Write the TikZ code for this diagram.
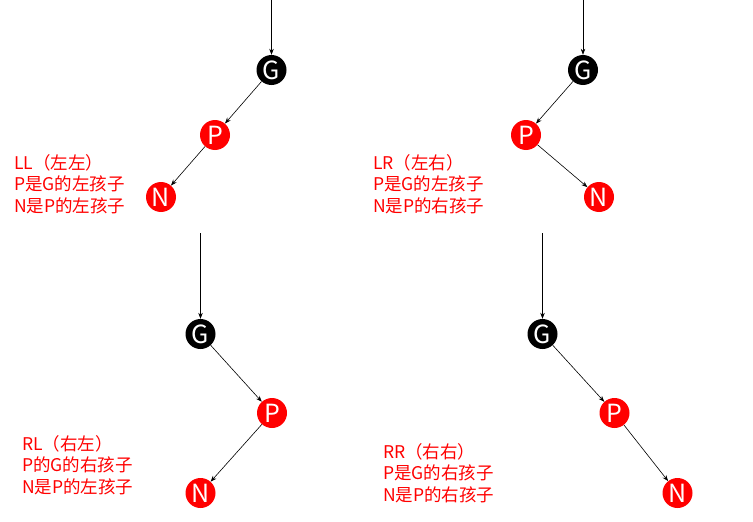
\documentclass[tikz,border=0pt]{standalone}
\usepackage{fontspec}
\setmainfont{Noto Sans CJK SC}
\usetikzlibrary{arrows.meta}
\tikzset{
  rbnode/.style={circle, minimum size=30pt, inner sep=0pt, text=white,
    font=\fontsize{25}{25}\selectfont},
  blk/.style={rbnode, fill=black},
  rd/.style={rbnode, fill=red},
  lbl/.style={anchor=west, align=left, inner sep=0pt, text=red,
    font=\fontsize{17.5}{21.5}\selectfont},
  link/.style={-{Stealth[length=6pt,width=4.5pt]}, line width=0.6pt}
}
\begin{document}
\begin{tikzpicture}[x=1pt,y=-1pt]
  \useasboundingbox (0,0) rectangle (753,522);
  % LL
  \coordinate (t1) at (271.5,0);
  \node [blk] (G1) at (271.5,70) {G};
  \node [rd] (P1) at (215,135) {P};
  \node [rd] (N1) at (161,197) {N};
  \draw [link] (t1) -- (G1);
  \draw [link] (G1) -- (P1);
  \draw [link] (P1) -- (N1);
  \node [lbl] (txt1) at (14,184) {LL（左左）\\P是G的左孩子\\N是P的左孩子};
  % LR
  \coordinate (t2) at (583,0);
  \node [blk] (G2) at (583,70) {G};
  \node [rd] (P2) at (526,135) {P};
  \node [rd] (N2) at (599,197) {N};
  \draw [link] (t2) -- (G2);
  \draw [link] (G2) -- (P2);
  \draw [link] (P2) -- (N2);
  \node [lbl] (txt2) at (373,184) {LR（左右）\\P是G的左孩子\\N是P的右孩子};
  % RL
  \coordinate (t3) at (200.5,233);
  \node [blk] (G3) at (200.5,334) {G};
  \node [rd] (P3) at (272,413) {P};
  \node [rd] (N3) at (200.5,493) {N};
  \draw [link] (t3) -- (G3);
  \draw [link] (G3) -- (P3);
  \draw [link] (P3) -- (N3);
  \node [lbl] (txt3) at (22,465) {RL（右左）\\P的G的右孩子\\N是P的左孩子};
  % RR
  \coordinate (t4) at (542.5,233);
  \node [blk] (G4) at (542.5,334) {G};
  \node [rd] (P4) at (614.5,413) {P};
  \node [rd] (N4) at (677.5,493) {N};
  \draw [link] (t4) -- (G4);
  \draw [link] (G4) -- (P4);
  \draw [link] (P4) -- (N4);
  \node [lbl] (txt4) at (383,473) {RR（右右）\\P是G的右孩子\\N是P的右孩子};
\end{tikzpicture}
\end{document}
